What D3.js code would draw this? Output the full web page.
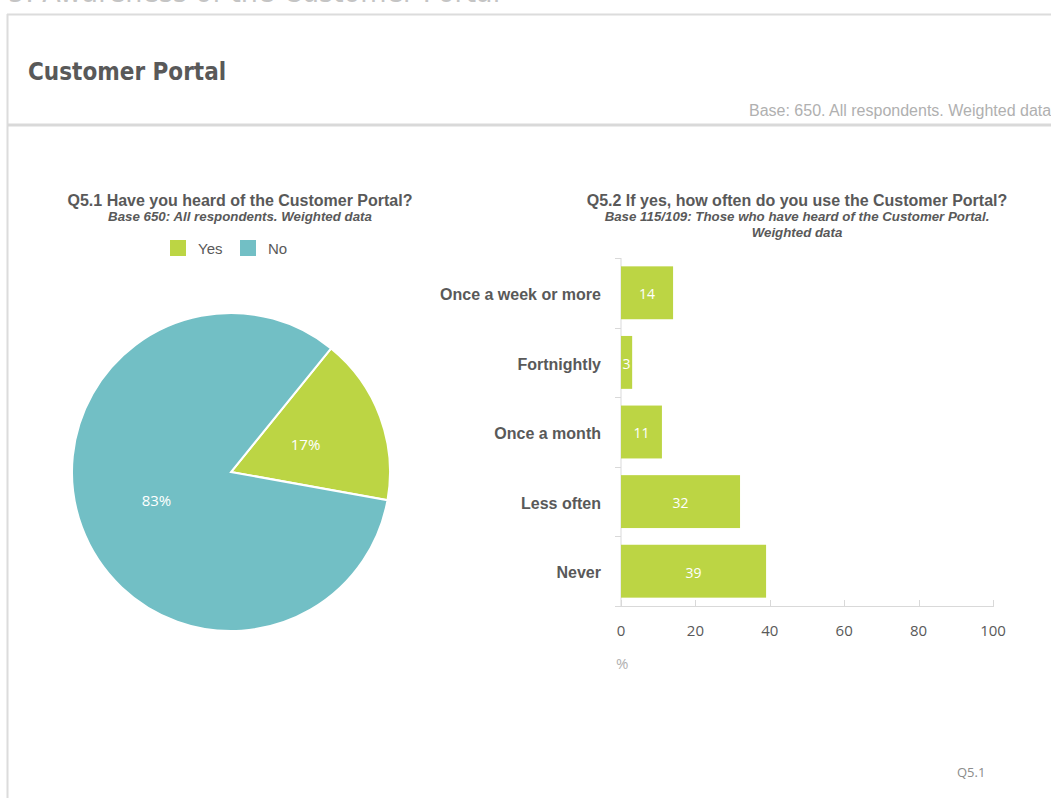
<!DOCTYPE html>
<html>
<head>
<meta charset="utf-8">
<script src="https://cdn.jsdelivr.net/npm/d3@7"></script>
<style>
  html, body { margin: 0; padding: 0; background: #fff; }
  svg { display: block; }
</style>
</head>
<body>
<svg id="chart" width="1051" height="798"></svg>
<script>
// Q5.1 awareness (pie)
const awarenessLabels = ["Yes", "No"];
const awarenessValues = [17, 83];
const awarenessColors = ["#bcd544", "#72bfc5"];

// Q5.2 frequency of use (horizontal bars, %)
const frequencyCategories = ["Once a week or more", "Fortnightly", "Once a month", "Less often", "Never"];
const frequencyValues = [14, 3, 11, 32, 39];
const xTicks = [0, 20, 40, 60, 80, 100];

const svg = d3.select("#chart");
const grey = "#595959";

// Page heading, running off the top edge
svg.append("text")
  .attr("x", 8).attr("y", 1.5)
  .attr("font-family", "DejaVu Sans Condensed, sans-serif")
  .attr("font-size", 30).attr("fill", "#c4c4c4")
  .text("5.          Awareness of the Customer Portal");

// Frame
svg.append("rect").attr("x", 0).attr("y", 3).attr("width", 1051).attr("height", 11).attr("fill", "#fff");
svg.append("line").attr("x1", 7).attr("x2", 1051).attr("y1", 14.5).attr("y2", 14.5)
  .attr("stroke", "#dcdcdc").attr("stroke-width", 2);
svg.append("line").attr("x1", 7.5).attr("x2", 7.5).attr("y1", 14).attr("y2", 798)
  .attr("stroke", "#dcdcdc").attr("stroke-width", 2);
svg.append("line").attr("x1", 8).attr("x2", 1051).attr("y1", 125).attr("y2", 125)
  .attr("stroke", "#d9d9d9").attr("stroke-width", 3);

svg.append("text")
  .attr("x", 28).attr("y", 80)
  .attr("font-family", "DejaVu Sans Condensed, sans-serif")
  .attr("font-weight", "bold").attr("font-size", 24)
  .attr("fill", grey)
  .text("Customer Portal");

svg.append("text")
  .attr("x", 749).attr("y", 116)
  .attr("font-family", "Liberation Sans, Arial, sans-serif")
  .attr("font-size", 16).attr("fill", "#b0b0b0")
  .text("Base: 650. All respondents. Weighted data");

// ---------- Pie chart ----------
const pieG = svg.append("g");
pieG.append("text")
  .attr("x", 240).attr("y", 206).attr("text-anchor", "middle")
  .attr("font-family", "Liberation Sans, Arial, sans-serif")
  .attr("font-weight", "bold").attr("font-size", 16).attr("fill", grey)
  .text("Q5.1 Have you heard of the Customer Portal?");
pieG.append("text")
  .attr("x", 240).attr("y", 221).attr("text-anchor", "middle")
  .attr("font-family", "Liberation Sans, Arial, sans-serif")
  .attr("font-style", "italic").attr("font-weight", "bold")
  .attr("font-size", 13.3).attr("fill", grey)
  .text("Base 650: All respondents. Weighted data");

// Legend
const legend = pieG.append("g").attr("transform", "translate(170,240)");
const legendX = [0, 70];
awarenessLabels.forEach((lab, i) => {
  const g = legend.append("g").attr("transform", `translate(${legendX[i]},0)`);
  g.append("rect").attr("width", 16).attr("height", 16).attr("fill", awarenessColors[i]);
  g.append("text").attr("x", 28).attr("y", 13.5)
    .attr("font-family", "Liberation Sans, Arial, sans-serif")
    .attr("font-size", 15).attr("fill", grey).text(lab);
});

const cx = 231, cy = 472, r = 159;
const start = 39 * Math.PI / 180;
const pie = d3.pie().sort(null).startAngle(start).endAngle(start + 2 * Math.PI);
const arcs = pie(awarenessValues);
const arc = d3.arc().innerRadius(0).outerRadius(r);
const labelArc = d3.arc().innerRadius(r * 0.5).outerRadius(r * 0.5);
const pg = pieG.append("g").attr("transform", `translate(${cx},${cy})`);
pg.selectAll("path").data(arcs).join("path")
  .attr("d", arc)
  .attr("fill", (d, i) => awarenessColors[i])
  .attr("stroke", "#fff").attr("stroke-width", 2);
pg.selectAll("text").data(arcs).join("text")
  .attr("transform", d => `translate(${labelArc.centroid(d)})`)
  .attr("text-anchor", "middle").attr("dy", "0.4em")
  .attr("font-family", "Open Sans, sans-serif")
  .attr("font-size", 15).attr("fill", "#fff")
  .text(d => d.data + "%");

// ---------- Bar chart ----------
const bg = svg.append("g");
const titleX = 797;
bg.append("text")
  .attr("x", titleX).attr("y", 206).attr("text-anchor", "middle")
  .attr("font-family", "Liberation Sans, Arial, sans-serif")
  .attr("font-weight", "bold").attr("font-size", 16).attr("fill", grey)
  .text("Q5.2 If yes, how often do you use the Customer Portal?");
["Base 115/109: Those who have heard of the Customer Portal.", "Weighted data"].forEach((t, i) => {
  bg.append("text")
    .attr("x", titleX).attr("y", 221 + i * 16).attr("text-anchor", "middle")
    .attr("font-family", "Liberation Sans, Arial, sans-serif")
    .attr("font-style", "italic").attr("font-weight", "bold")
    .attr("font-size", 13.3).attr("fill", grey)
    .text(t);
});

const x = d3.scaleLinear().domain([0, 100]).range([621, 993]);
const y = d3.scaleBand().domain(frequencyCategories).range([258, 606]).paddingInner(0.24).paddingOuter(0.12);
const yEdges = d3.scaleBand().domain(frequencyCategories).range([258, 606]);

// Axis lines and ticks
const axisColor = "#d9d9d9";
bg.append("line").attr("x1", 621).attr("x2", 621).attr("y1", 258).attr("y2", 606)
  .attr("stroke", axisColor);
bg.append("line").attr("x1", 621).attr("x2", 993).attr("y1", 606.5).attr("y2", 606.5)
  .attr("stroke", axisColor);
bg.selectAll(".ytick").data(frequencyCategories.map(c => yEdges(c)).concat([606]))
  .join("line").attr("class", "ytick")
  .attr("x1", 615).attr("x2", 621).attr("y1", d => Math.round(d) + 0.5).attr("y2", d => Math.round(d) + 0.5)
  .attr("stroke", axisColor);
bg.selectAll(".xtick").data(xTicks).join("line").attr("class", "xtick")
  .attr("x1", d => Math.round(x(d)) + 0.5).attr("x2", d => Math.round(x(d)) + 0.5)
  .attr("y1", 600).attr("y2", 607)
  .attr("stroke", axisColor);
bg.selectAll(".xlab").data(xTicks).join("text").attr("class", "xlab")
  .attr("x", d => x(d)).attr("y", 636).attr("text-anchor", "middle")
  .attr("font-family", "Open Sans, sans-serif").attr("font-size", 15).attr("fill", grey)
  .text(d => d);
bg.append("text").attr("x", 616).attr("y", 669)
  .attr("font-family", "Open Sans, sans-serif").attr("font-size", 15).attr("fill", "#b0b0b0")
  .text("%");

// Category labels
bg.selectAll(".ylab").data(frequencyCategories).join("text").attr("class", "ylab")
  .attr("x", 601).attr("y", d => y(d) + y.bandwidth() / 2).attr("dy", "0.45em")
  .attr("text-anchor", "end")
  .attr("font-family", "Liberation Sans, Arial, sans-serif")
  .attr("font-weight", "bold").attr("font-size", 16).attr("fill", grey)
  .text(d => d);

// Bars
bg.selectAll(".bar").data(frequencyValues).join("rect").attr("class", "bar")
  .attr("x", x(0)).attr("y", (d, i) => y(frequencyCategories[i]))
  .attr("width", d => x(d) - x(0)).attr("height", y.bandwidth())
  .attr("fill", "#bcd544");
bg.selectAll(".val").data(frequencyValues).join("text").attr("class", "val")
  .attr("x", d => (x(0) + x(d)) / 2).attr("y", (d, i) => y(frequencyCategories[i]) + y.bandwidth() / 2)
  .attr("dy", "0.45em").attr("text-anchor", "middle")
  .attr("font-family", "Open Sans, sans-serif").attr("font-size", 14).attr("fill", "#fff")
  .text(d => d);

// Slide reference
svg.append("text").attr("x", 957).attr("y", 777)
  .attr("font-family", "Open Sans, sans-serif").attr("font-size", 13).attr("fill", "#8c8c8c")
  .text("Q5.1");
</script>
</body>
</html>
